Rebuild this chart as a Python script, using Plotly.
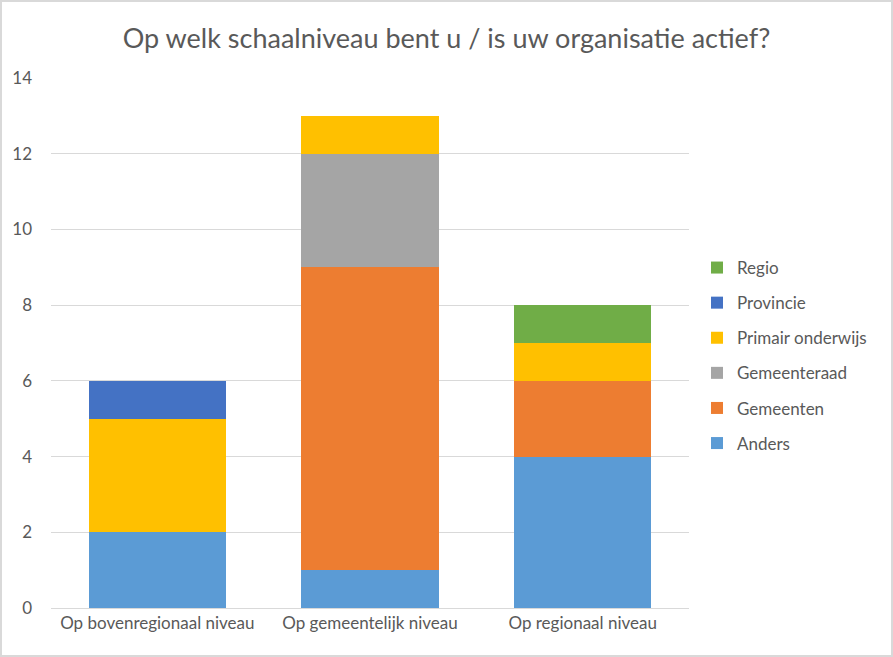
import plotly.graph_objects as go

categories = ["Op bovenregionaal niveau", "Op gemeentelijk niveau", "Op regionaal niveau"]
series_names = ["Anders", "Gemeenten", "Gemeenteraad", "Primair onderwijs", "Provincie", "Regio"]
anders = [2, 1, 4]
gemeenten = [0, 8, 2]
gemeenteraad = [0, 3, 0]
primair_onderwijs = [3, 1, 1]
provincie = [1, 0, 0]
regio = [0, 0, 1]
colors = ["#5B9BD5", "#ED7D31", "#A5A5A5", "#FFC000", "#4472C4", "#70AD47"]
values = [anders, gemeenten, gemeenteraad, primair_onderwijs, provincie, regio]

W, H = 893, 657
ml, mr, mt, mb = 51, 204, 78, 49
pw, ph = W - ml - mr, H - mt - mb

fig = go.Figure()
n = len(series_names)
for i, (name, vals, col) in enumerate(zip(series_names, values, colors)):
    fig.add_trace(go.Bar(
        x=categories, y=vals, name=name, marker=dict(color=col, line=dict(width=0)),
        legendgroup=name, legendrank=n - i,
    ))

font_family = "Lato, 'Open Sans', sans-serif"
fig.update_layout(
    barmode="stack",
    bargap=0.355,
    width=W, height=H,
    margin=dict(l=ml, r=mr, t=mt, b=mb),
    paper_bgcolor="white", plot_bgcolor="white",
    font=dict(family=font_family, color="#595959", size=17),
    title=dict(text="Op welk schaalniveau bent u / is uw organisatie actief?",
               x=0.5, xanchor="center", y=1 - 39 / H, yanchor="middle",
               font=dict(size=27, color="#595959")),
    xaxis=dict(showgrid=False, showline=True, linecolor="#D9D9D9", linewidth=1,
               ticks="", tickfont=dict(size=17, color="#595959")),
    yaxis=dict(range=[0, 14], dtick=2, showgrid=True, gridcolor="#D9D9D9", gridwidth=1,
               zeroline=False, ticks="", ticklabelstandoff=18,
               tickfont=dict(size=17, color="#595959")),
    legend=dict(x=1 + (697 - 689) / pw, xanchor="left", y=1 - (250 - mt) / ph, yanchor="top",
                traceorder="grouped", tracegroupgap=10,
                font=dict(size=17, color="#595959"), bgcolor="rgba(0,0,0,0)",
                itemwidth=30),
    showlegend=True,
)
fig.add_shape(type="rect", xref="paper", yref="paper",
              x0=(-ml + 1) / pw, x1=(W - ml - 1) / pw,
              y0=(-mb + 1) / ph, y1=(H - mb - 1) / ph,
              line=dict(color="#D9D9D9", width=2), layer="below")
fig.write_html("out.html")
